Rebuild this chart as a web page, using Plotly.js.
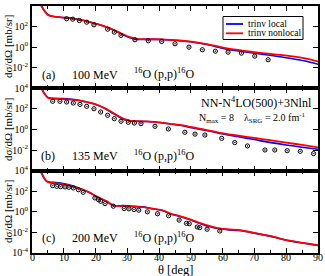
<!DOCTYPE html>
<html>
<head>
<meta charset="utf-8">
<script src="https://cdn.plot.ly/plotly-3.0.1.min.js"></script>
<style>html,body{margin:0;padding:0;background:#fff}#chart{width:325px;height:276px}</style>
</head>
<body>
<div id="chart"></div>
<script>
// ---- data (cross sections stored as log10 of dsigma/dOmega in mb/sr) ----
// Panel (a) 100 MeV
const thetaCalcA = [1.5, 3.0, 4.0, 5.0, 6.0, 7.5, 9.8, 12.5, 15.1, 17.5, 20.3, 23, 25.6, 28, 30.8, 33, 36, 41, 46.5, 50.7, 55, 61, 66, 71.7, 77, 82, 86, 90];
const logNonlocalA = [5.2, 4.0, 3.5, 3.15, 3.02, 2.95, 2.88, 2.8, 2.66, 2.5, 2.27, 2.0, 1.69, 1.35, 0.97, 0.8, 0.77, 0.76, 0.65, 0.52, 0.3, -0.1, -0.33, -0.55, -0.72, -0.9, -1.1, -1.39];
const logLocalA    = [5.2, 4.0, 3.5, 3.15, 3.02, 2.95, 2.88, 2.8, 2.66, 2.5, 2.27, 2.0, 1.67, 1.3, 0.92, 0.76, 0.76, 0.75, 0.62, 0.48, 0.25, -0.17, -0.42, -0.65, -0.88, -1.12, -1.35, -1.66];
const thetaExpA = [10.9, 12.8, 14.9, 17.2, 19.5, 23.8, 25.9, 28.0, 32.4, 36.6, 40.8, 45.0, 49.4, 53.6, 57.7, 61.7, 65.9, 70.1, 74.3];
const logExpA   = [2.76, 2.72, 2.59, 2.43, 2.17, 1.75, 1.46, 1.14, 0.72, 0.62, 0.55, 0.33, 0.0, -0.25, -0.39, -0.49, -0.58, -0.87, -1.22];

// Panel (b) 135 MeV
const thetaCalcB = [1.5, 3.0, 4.0, 5.1, 7, 9.8, 12.5, 15.1, 17.5, 20.3, 23, 25.6, 28.7, 30.8, 33, 36, 41, 43.4, 46.5, 50.7, 55, 59.1, 65, 70, 74.8, 80, 85, 90];
const logNonlocalB = [5.3, 4.0, 3.45, 3.06, 2.98, 2.96, 2.9, 2.8, 2.65, 2.41, 2.05, 1.6, 1.05, 0.86, 0.8, 0.78, 0.65, 0.55, 0.45, 0.2, -0.05, -0.33, -0.6, -0.82, -1.03, -1.27, -1.5, -1.73];
const logLocalB    = [5.3, 4.0, 3.45, 3.08, 3.02, 3.0, 2.93, 2.82, 2.65, 2.41, 2.03, 1.55, 1.0, 0.84, 0.8, 0.78, 0.65, 0.53, 0.42, 0.15, -0.1, -0.38, -0.7, -0.98, -1.25, -1.5, -1.72, -1.92];
const thetaExpB = [6.5, 8.8, 10.9, 13.0, 15.1, 17.2, 19.5, 21.6, 23.8, 25.9, 28.0, 30.3, 32.2, 34.3, 38.7, 42.9, 48.1, 51.3, 54.4, 59.7, 63.8, 67.8, 73.3, 76.4, 80.3, 84.4, 88.6];
const logExpB   = [2.74, 2.74, 2.67, 2.57, 2.44, 2.25, 2.02, 1.7, 1.38, 1.05, 0.8, 0.7, 0.63, 0.56, 0.31, 0.05, -0.27, -0.45, -0.54, -0.86, -1.27, -1.6, -1.99, -1.99, -2.06, -2.12, -2.34];

// Panel (c) 200 MeV
const thetaCalcC = [1.0, 2.0, 3.0, 4.0, 4.6, 5.5, 6.7, 9.8, 13, 16, 18, 20.3, 23.5, 25.6, 28.7, 32, 35, 38, 41.3, 43.4, 46.5, 50, 53, 56, 59, 62, 65.4, 70, 74.8, 81, 86, 90];
const logNonlocalC = [5.5, 4.6, 3.77, 3.2, 2.96, 2.85, 2.8, 2.7, 2.45, 2.15, 1.9, 1.5, 1.03, 0.62, 0.55, 0.5, 0.45, 0.3, 0.13, -0.15, -0.42, -0.75, -1.1, -1.38, -1.6, -1.7, -1.79, -2.05, -2.34, -2.8, -3.05, -3.25];
const logLocalC    = [5.5, 4.6, 3.77, 3.2, 2.98, 2.9, 2.86, 2.76, 2.5, 2.15, 1.88, 1.48, 1.0, 0.62, 0.6, 0.55, 0.48, 0.3, 0.1, -0.18, -0.45, -0.8, -1.15, -1.45, -1.65, -1.75, -1.82, -2.07, -2.36, -2.82, -3.07, -3.27];
const thetaExpC = [6.5, 7.8, 9.0, 10.4, 11.6, 13.0, 14.6, 16.1, 19.8, 20.9, 21.6, 23.0, 25.6, 29.0, 30.5, 32.1, 33.6, 36.3, 39.5, 43.0, 46.3, 48.6, 49.5, 52.0, 52.8, 55.1, 59.1];
const logExpC   = [2.54, 2.48, 2.44, 2.42, 2.39, 2.32, 2.15, 1.9, 1.35, 1.19, 1.03, 0.80, 0.55, 0.32, 0.29, 0.22, 0.16, 0.0, -0.19, -0.38, -0.8, -1.12, -1.15, -1.47, -1.54, -1.69, -1.86];

const energies = ['100 MeV', '135 MeV', '200 MeV'];
const panelTags = ['(a)', '(b)', '(c)'];
const seriesNames = ['trinv local', 'trinv nonlocal'];
const xTicks = [0, 10, 20, 30, 40, 50, 60, 70, 80, 90];

// ---- build ----
const pow10 = a => a.map(v => Math.pow(10, v));
const FONT = 'Liberation Serif, Times New Roman, serif';
const BLUE = 'rgb(0,0,255)', RED = 'rgb(255,0,0)';

const panels = [
  {th: thetaCalcA, loc: logLocalA, nl: logNonlocalA, tx: thetaExpA, ex: logExpA, xa: 'x3', ya: 'y3'},
  {th: thetaCalcB, loc: logLocalB, nl: logNonlocalB, tx: thetaExpB, ex: logExpB, xa: 'x2', ya: 'y2'},
  {th: thetaCalcC, loc: logLocalC, nl: logNonlocalC, tx: thetaExpC, ex: logExpC, xa: 'x', ya: 'y'}
];

const traces = [];
panels.forEach(p => {
  traces.push({x: p.th, y: pow10(p.loc), xaxis: p.xa, yaxis: p.ya, mode: 'lines', name: seriesNames[0],
    line: {color: BLUE, width: 1.6, shape: 'spline', smoothing: 0.8}, showlegend: false, hoverinfo: 'skip'});
  traces.push({x: p.th, y: pow10(p.nl), xaxis: p.xa, yaxis: p.ya, mode: 'lines', name: seriesNames[1],
    line: {color: RED, width: 1.8, shape: 'spline', smoothing: 0.8}, showlegend: false, hoverinfo: 'skip'});
  traces.push({x: p.tx, y: pow10(p.ex), xaxis: p.xa, yaxis: p.ya, mode: 'markers', name: 'data',
    marker: {symbol: 'circle-open-dot', size: 4.2, color: '#000', line: {width: 1, color: '#000'}},
    showlegend: false, hoverinfo: 'skip', cliponaxis: true});
});

function xAxis(anchor) {
  return {anchor: anchor, range: [0, 90], tickvals: xTicks, ticks: 'inside', ticklen: 5, tickwidth: 1,
    tickcolor: '#000', showticklabels: false,
    minor: {dtick: 5, tick0: 0, ticks: 'inside', ticklen: 3, tickwidth: 1, tickcolor: '#000', showgrid: false},
    showline: true, linewidth: 2, linecolor: '#000', mirror: 'allticks', showgrid: false, zeroline: false,
    fixedrange: true};
}
function yAxis(domain, exps) {
  return {domain: domain, type: 'log', range: [-4, 4],
    tickvals: exps.map(e => Math.pow(10, e)),
    ticktext: exps.map(e => '10<sup>' + e + '</sup>'),
    ticks: 'inside', ticklen: 5, tickwidth: 1, tickcolor: '#000',
    tickfont: {family: FONT, size: 10, color: '#000'},
    showline: true, linewidth: 2, linecolor: '#000', mirror: 'allticks', showgrid: false, zeroline: false,
    fixedrange: true};
}

const L = 32, R = 7, T = 6, B = 23, W = 325, H = 276;
const pw = W - L - R, ph = H - T - B;
const px2x = px => (px - L) / pw;
const px2y = py => 1 - (py - T) / ph;

const annotations = [];
// bottom x tick labels placed on the x data scale, just under the axis line
xTicks.forEach(t => annotations.push({xref: 'x', yref: 'paper', x: t, y: px2y(257.5), text: String(t), showarrow: false,
  font: {family: FONT, size: 10, color: '#000'}, xanchor: 'center', yanchor: 'middle'}));

const rowY = [75, 156, 238];
const titleY = [47, 130, 212];
for (let i = 0; i < 3; i++) {
  annotations.push({xref: 'paper', yref: 'paper', x: px2x(48), y: px2y(rowY[i]), text: panelTags[i], showarrow: false,
    font: {family: FONT, size: 12, color: '#000'}, xanchor: 'center', yanchor: 'middle'});
  annotations.push({xref: 'paper', yref: 'paper', x: px2x(95), y: px2y(rowY[i]), text: energies[i], showarrow: false,
    font: {family: FONT, size: 12, color: '#000'}, xanchor: 'center', yanchor: 'middle'});
  annotations.push({xref: 'paper', yref: 'paper', x: px2x(132), y: px2y(rowY[i] - 1), text: '<sup>16</sup>O (p,p)<sup>16</sup>O', showarrow: false,
    font: {family: FONT, size: 12, color: '#000'}, xanchor: 'left', yanchor: 'middle'});
  annotations.push({xref: 'paper', yref: 'paper', x: px2x(8), y: px2y(titleY[i]), text: 'dσ/dΩ [mb/sr]', showarrow: false,
    textangle: -90, font: {family: FONT, size: 11, color: '#000'}, xanchor: 'center', yanchor: 'middle'});
}
annotations.push({xref: 'paper', yref: 'paper', x: px2x(256), y: px2y(102), text: 'NN-N<sup>4</sup>LO(500)+3Nlnl', showarrow: false,
  font: {family: FONT, size: 12, color: '#000'}, xanchor: 'center', yanchor: 'middle'});
annotations.push({xref: 'paper', yref: 'paper', x: px2x(252), y: px2y(118), text: 'N<sub>max</sub> = 8    λ<sub>SRG</sub> = 2.0 fm<sup>-1</sup>', showarrow: false,
  font: {family: FONT, size: 10, color: '#000'}, xanchor: 'center', yanchor: 'middle'});
annotations.push({xref: 'paper', yref: 'paper', x: px2x(176), y: px2y(269.5), text: 'θ [deg]', showarrow: false,
  font: {family: FONT, size: 12.5, color: '#000'}, xanchor: 'center', yanchor: 'middle'});
// legend labels
annotations.push({xref: 'paper', yref: 'paper', x: px2x(246), y: px2y(24), text: seriesNames[0], showarrow: false,
  font: {family: FONT, size: 9.5, color: '#000'}, xanchor: 'left', yanchor: 'middle'});
annotations.push({xref: 'paper', yref: 'paper', x: px2x(246), y: px2y(33.3), text: seriesNames[1], showarrow: false,
  font: {family: FONT, size: 9.5, color: '#000'}, xanchor: 'left', yanchor: 'middle'});

const shapes = [
  {type: 'rect', xref: 'paper', yref: 'paper', x0: px2x(223), x1: px2x(303), y0: px2y(39.5), y1: px2y(16.5),
    line: {color: '#000', width: 1}, fillcolor: '#fff'},
  {type: 'line', xref: 'paper', yref: 'paper', x0: px2x(226), x1: px2x(243), y0: px2y(24), y1: px2y(24), line: {color: BLUE, width: 1.8}},
  {type: 'line', xref: 'paper', yref: 'paper', x0: px2x(226), x1: px2x(243), y0: px2y(33.3), y1: px2y(33.3), line: {color: RED, width: 1.8}}
];

const layout = {
  width: W, height: H, margin: {l: L, r: R, t: T, b: B, pad: 0},
  paper_bgcolor: '#fff', plot_bgcolor: '#fff', showlegend: false,
  font: {family: FONT, color: '#000'},
  xaxis: xAxis('y'), xaxis2: xAxis('y2'), xaxis3: xAxis('y3'),
  yaxis: yAxis([0, 1/3], [4, 2, 0, -2, -4]),
  yaxis2: yAxis([1/3, 2/3], [4, 2, 0, -2]),
  yaxis3: yAxis([2/3, 1], [4, 2, 0, -2]),
  annotations: annotations, shapes: shapes
};
Plotly.newPlot('chart', traces, layout, {displayModeBar: false, staticPlot: true});
</script>
</body>
</html>
